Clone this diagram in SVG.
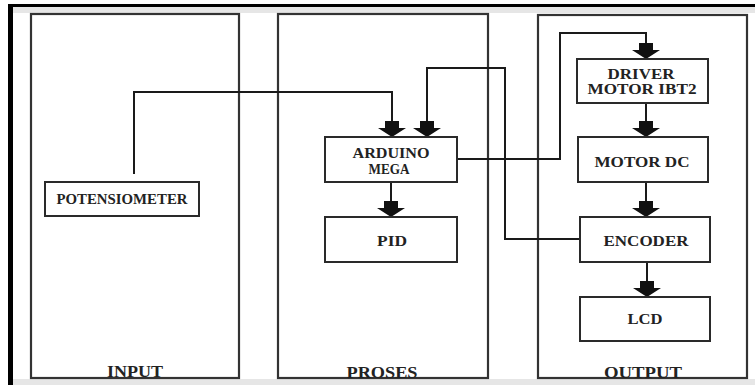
<svg xmlns="http://www.w3.org/2000/svg" width="755" height="385" viewBox="0 0 755 385">
<style>
.panel{fill:none;stroke:#333;stroke-width:2.2}
.box{fill:#fff;stroke:#2a2a2a;stroke-width:2}
.lbl{font-family:"Liberation Serif","Times New Roman",serif;font-weight:bold;fill:#222;text-anchor:middle}
.t{font-size:14px}
.h{font-size:16px}
.conn{fill:none;stroke:#1a1a1a;stroke-width:2}
</style>
<defs>
<marker id="ah" markerUnits="userSpaceOnUse" markerWidth="16" markerHeight="30" viewBox="-16 -15 16 30" refX="0" refY="0" orient="auto">
<path d="M-16,-7 L-9,-7 L-9,-14 L0,0 L-9,14 L-9,7 L-16,7 Z" fill="#111"/>
</marker>
</defs>
<rect x="0" y="0" width="755" height="385" fill="#fff"/>
<rect x="13" y="7" width="742" height="6" fill="#e6e6e6"/>
<rect x="13" y="379" width="742" height="6" fill="#e6e6e6"/>
<rect x="8" y="4" width="747" height="3" fill="#000"/>
<rect x="8" y="4" width="5" height="381" fill="#000"/>

<g id="panel-input">
<rect class="panel" x="31" y="14" width="208" height="364"/>
<text class="lbl h" x="135" y="377" textLength="56" lengthAdjust="spacingAndGlyphs">INPUT</text>
</g>
<g id="panel-proses">
<rect class="panel" x="278" y="14" width="210" height="364"/>
<text class="lbl h" x="382" y="378" textLength="71" lengthAdjust="spacingAndGlyphs">PROSES</text>
</g>
<g id="panel-output">
<rect class="panel" x="538" y="15" width="209" height="363"/>
<text class="lbl h" x="643" y="378" textLength="78" lengthAdjust="spacingAndGlyphs">OUTPUT</text>
</g>

<g id="connectors">
<polyline class="conn" points="134,174 134,92 392,92 392,137" marker-end="url(#ah)"/>
<polyline class="conn" points="580,239 505,239 505,68 427,68 427,137" marker-end="url(#ah)"/>
<polyline class="conn" points="457,159 560,159 560,33 646,33 646,59" marker-end="url(#ah)"/>
<line class="conn" x1="391" y1="182" x2="391" y2="217" marker-end="url(#ah)"/>
<line class="conn" x1="646" y1="103" x2="646" y2="137" marker-end="url(#ah)"/>
<line class="conn" x1="646" y1="182" x2="646" y2="217" marker-end="url(#ah)"/>
<line class="conn" x1="647" y1="262" x2="647" y2="297" marker-end="url(#ah)"/>
</g>

<g id="potensiometer">
<rect class="box" x="45" y="182" width="154" height="34"/>
<text class="lbl t" x="122" y="204" textLength="131" lengthAdjust="spacingAndGlyphs">POTENSIOMETER</text>
</g>
<g id="arduino">
<rect class="box" x="325" y="137" width="132" height="45"/>
<text class="lbl t" x="391" y="158" textLength="77" lengthAdjust="spacingAndGlyphs">ARDUINO</text>
<text class="lbl t" x="389" y="174" textLength="41" lengthAdjust="spacingAndGlyphs">MEGA</text>
</g>
<g id="pid">
<rect class="box" x="325" y="217" width="132" height="45"/>
<text class="lbl t" x="392" y="246" textLength="30" lengthAdjust="spacingAndGlyphs">PID</text>
</g>
<g id="driver">
<rect class="box" x="577" y="59" width="131" height="44"/>
<text class="lbl t" x="641" y="79" textLength="67" lengthAdjust="spacingAndGlyphs">DRIVER</text>
<text class="lbl t" x="642" y="94" textLength="109" lengthAdjust="spacingAndGlyphs">MOTOR IBT2</text>
</g>
<g id="motordc">
<rect class="box" x="578" y="137" width="130" height="45"/>
<text class="lbl t" x="642" y="167" textLength="95" lengthAdjust="spacingAndGlyphs">MOTOR DC</text>
</g>
<g id="encoder">
<rect class="box" x="580" y="217" width="130" height="45"/>
<text class="lbl t" x="646" y="246" textLength="85" lengthAdjust="spacingAndGlyphs">ENCODER</text>
</g>
<g id="lcd">
<rect class="box" x="580" y="297" width="130" height="44"/>
<text class="lbl t" x="645" y="324" textLength="35" lengthAdjust="spacingAndGlyphs">LCD</text>
</g>
</svg>
